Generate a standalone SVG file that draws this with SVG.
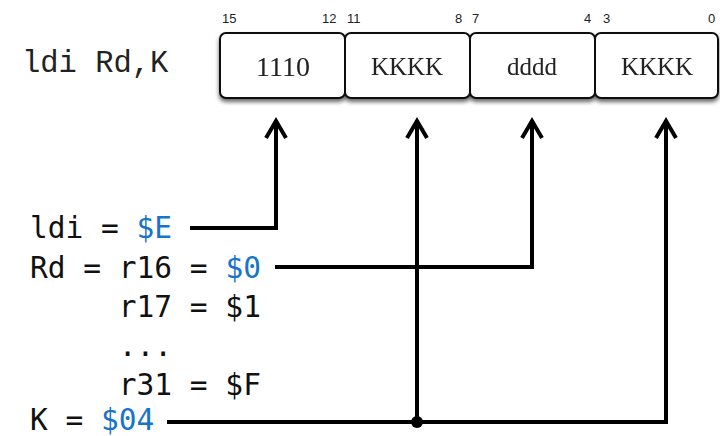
<svg xmlns="http://www.w3.org/2000/svg" width="720" height="436" viewBox="0 0 720 436">
<style>
.box{fill:#fff;stroke:#111;stroke-width:2}
.fld{font-family:"Liberation Serif",serif;font-size:25px;fill:#222;text-anchor:middle}
.bit{font-family:"Liberation Sans",Arial,sans-serif;font-size:13px;fill:#222}
.code{font-family:"DejaVu Sans Mono","Liberation Mono",monospace;font-size:29.5px;fill:#111}
.blue{fill:#1874C8}
.wire{fill:none;stroke:#000;stroke-width:4;stroke-linejoin:miter}
.head{fill:none;stroke:#000;stroke-width:4;stroke-linecap:butt;stroke-linejoin:miter}
</style>
<defs>
<filter id="sh" x="-10%" y="-10%" width="120%" height="140%">
<feGaussianBlur in="SourceAlpha" stdDeviation="2"/>
<feOffset dx="0" dy="3" result="b"/>
<feComponentTransfer><feFuncA type="linear" slope="0.6"/></feComponentTransfer>
<feMerge><feMergeNode/><feMergeNode in="SourceGraphic"/></feMerge>
</filter>
</defs>
<rect width="720" height="436" fill="#fff"/>
<text x="22" y="72" style="font-family:'Liberation Mono',monospace;font-size:30.5px;fill:#222">ldi Rd,K</text>
<g id="bits" class="bit">
<text x="222" y="23">15</text>
<text x="322" y="23">12</text>
<text x="347" y="23">11</text>
<text x="455" y="23">8</text>
<text x="472" y="23">7</text>
<text x="584" y="23">4</text>
<text x="603" y="23">3</text>
<text x="708" y="23">0</text>
</g>
<g filter="url(#sh)">
<g id="f1"><rect class="box" x="220" y="33" width="125" height="65" rx="6"/><text class="fld" x="283" y="76" style="font-size:28px">1110</text></g>
<g id="f2"><rect class="box" x="345" y="33" width="125" height="65" rx="6"/><text class="fld" x="407" y="75">KKKK</text></g>
<g id="f3"><rect class="box" x="470" y="33" width="125" height="65" rx="6"/><text class="fld" x="532" y="75">dddd</text></g>
<g id="f4"><rect class="box" x="595" y="33" width="123" height="65" rx="6"/><text class="fld" x="657" y="75">KKKK</text></g>
</g>
<g id="labels" class="code">
<text x="30" y="238" xml:space="preserve">ldi = <tspan class="blue">$E</tspan></text>
<text x="30" y="278" xml:space="preserve">Rd = r16 = <tspan class="blue">$0</tspan></text>
<text x="30" y="317" xml:space="preserve">     r17 = $1</text>
<text x="30" y="356" xml:space="preserve">     ...</text>
<text x="30" y="395" xml:space="preserve">     r31 = $F</text>
<text x="30" y="430" xml:space="preserve">K = <tspan class="blue">$04</tspan></text>
</g>
<g id="connectors">
<polyline class="wire" points="190,228 276,228 276,120"/>
<polyline class="wire" points="275,267 532,267 532,120"/>
<polyline class="wire" points="167,422 666,422 666,120"/>
<line class="wire" x1="417" y1="422" x2="417" y2="120"/>
<circle cx="417" cy="422" r="6" fill="#000"/>
<polyline class="head" points="266,138 276,121 286,138"/>
<polyline class="head" points="407,138 417,121 427,138"/>
<polyline class="head" points="522,138 532,121 542,138"/>
<polyline class="head" points="656,138 666,121 676,138"/>
</g>
</svg>
